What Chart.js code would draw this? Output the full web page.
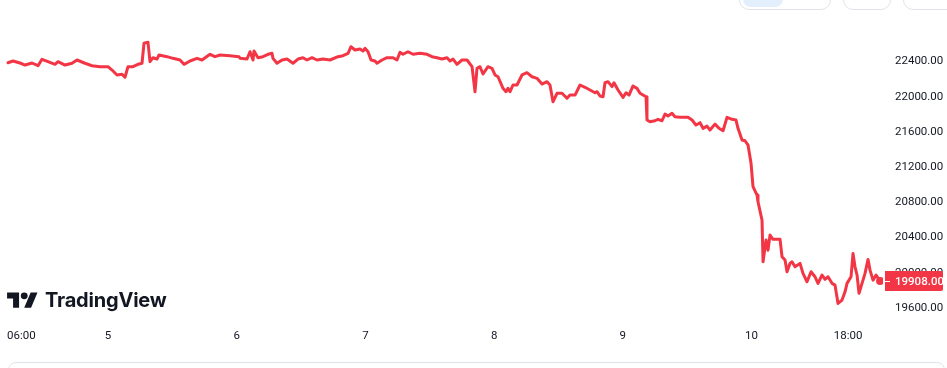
<!DOCTYPE html>
<html>
<head>
<meta charset="utf-8">
<script src="https://cdn.jsdelivr.net/npm/chart.js@4.4.1/dist/chart.umd.min.js"></script>
<style>
  html, body { margin: 0; padding: 0; background: #fff; }
  body { width: 947px; height: 368px; position: relative; overflow: hidden; font-family: Roboto, "Liberation Sans", sans-serif; }
  #chart { position: absolute; left: 0; top: 0; }
  .btn { position: absolute; top: -22px; height: 32px; border: 1px solid #e0e3eb; border-radius: 10px; box-sizing: border-box; background: #fff; }
  .pill { position: absolute; left: 3px; top: 0; width: 40px; height: 29px; background: #e3effd; border-radius: 8px; }
  .footer { position: absolute; left: 8px; top: 362px; width: 937px; height: 40px; border: 1px solid #e0e3eb; border-radius: 8px; box-sizing: border-box; }
  .logo { position: absolute; left: 7px; top: 289px; display: flex; align-items: flex-start; color: #131722; }
  .logo svg { width: 31px; height: 24px; }
  .logo span { font-family: Inter, sans-serif; font-weight: 700; font-size: 20px; line-height: 20px; margin-left: 7px; margin-top: 1px; letter-spacing: -0.2px; }
</style>
</head>
<body>
<canvas id="chart" width="947" height="368"></canvas>
<div class="btn" style="left:739px;width:92px;"><div class="pill" style="top:-1px"></div></div>
<div class="btn" style="left:843px;width:48px;"></div>
<div class="btn" style="left:903px;width:60px;"></div>
<div class="logo">
  <svg viewBox="0 0 36 28"><path d="M14 22H7V11H0V4h14v18zM28 22h-8l7.5-18h8L28 22z" fill="currentColor"/><circle cx="20" cy="8" r="4" fill="currentColor"/></svg>
  <span>TradingView</span>
</div>
<div class="footer"></div>
<script>
// hours counted from day 4, 00:00
const hours = [
  5.35, 6.28, 7.59, 8.52, 9.83, 10.95, 11.69, 12.81, 14.12, 14.68,
  15.98, 17.29, 18.22, 19.71, 21.02, 22.51, 24.0, 24.75, 25.68, 26.61,
  27.17, 27.73, 28.66, 29.59, 30.34, 30.71, 31.46, 31.83, 32.39, 33.14,
  33.51, 35.0, 36.12, 37.43, 38.17, 39.29, 40.6, 41.53, 43.02, 43.95,
  44.89, 46.75, 48.43, 48.62, 49.92, 50.48, 51.04, 51.23, 51.97, 52.9,
  53.84, 54.58, 54.77, 55.51, 56.45, 57.38, 58.5, 59.43, 60.36, 61.11,
  62.04, 62.97, 64.09, 65.4, 66.89, 67.82, 68.76, 69.31, 70.06, 70.99,
  71.55, 71.92, 72.49, 73.05, 73.79, 74.16, 75.1, 76.03, 77.15, 77.89,
  78.45, 79.01, 79.94, 80.88, 82.18, 83.49, 84.42, 85.35, 86.28, 87.22,
  87.78, 88.34, 89.08, 90.01, 90.95, 91.88, 92.44, 92.81, 93.37, 93.93,
  94.86, 95.61, 96.17, 96.73, 97.66, 98.22, 98.59, 98.97, 99.52, 100.27,
  101.2, 102.13, 103.07, 104.0, 104.93, 105.86, 106.42, 106.98, 107.73, 108.66,
  109.59, 110.15, 111.09, 112.02, 112.95, 113.88, 114.82, 115.19, 115.75, 116.31,
  116.68, 117.24, 117.99, 118.36, 119.11, 120.04, 120.6, 121.16, 121.9, 122.65,
  123.21, 123.77, 124.33, 124.51, 125.07, 126.0, 126.56, 127.31, 127.87, 128.43,
  129.17, 129.73, 130.67, 132.16, 132.91, 133.65, 134.4, 134.96, 135.7, 136.26,
  137.19, 137.94, 138.69, 139.43, 140.37, 141.11, 141.48, 142.23, 142.79, 143.35,
  143.91, 144.28, 145.03, 145.21, 145.96, 146.15, 146.71, 147.08, 147.45, 148.01,
  149.32, 149.69, 150.25, 150.62, 151.18, 151.55, 152.11, 153.05, 153.6, 154.35,
  155.1, 155.84, 156.4, 157.15, 157.71, 158.27, 159.01, 159.57, 160.13, 160.88,
  161.44, 161.81, 162.56, 162.93, 163.3, 163.68, 164.05, 164.61, 165.17, 165.73,
  166.1, 166.66, 167.22, 167.97
];
const prices = [
  22386, 22406, 22383, 22360, 22383, 22352, 22425, 22398, 22368, 22398,
  22360, 22380, 22417, 22380, 22352, 22341, 22341, 22303, 22247, 22255,
  22221, 22341, 22341, 22368, 22380, 22607, 22618, 22398, 22443, 22428,
  22474, 22455, 22436, 22417, 22368, 22406, 22436, 22417, 22482, 22455,
  22474, 22466, 22455, 22436, 22428, 22511, 22417, 22519, 22443, 22455,
  22482, 22493, 22436, 22380, 22417, 22428, 22380, 22428, 22443, 22417,
  22443, 22417, 22428, 22417, 22455, 22466, 22493, 22568, 22531, 22542,
  22519, 22550, 22511, 22417, 22406, 22380, 22417, 22443, 22443, 22417,
  22504, 22482, 22511, 22482, 22493, 22482, 22455, 22443, 22428, 22443,
  22406, 22428, 22368, 22417, 22417, 22341, 22057, 22323, 22341, 22258,
  22341, 22323, 22247, 22227, 22095, 22057, 22095, 22057, 22133, 22133,
  22247, 22273, 22227, 22209, 22144, 22171, 22133, 21943, 22039, 22039,
  21982, 22019, 22019, 22133, 22107, 22076, 22045, 22057, 22008, 22000,
  22159, 22171, 22114, 22159, 22076, 21992, 22045, 22019, 22122, 22095,
  22039, 22019, 22000, 21735, 21716, 21727, 21743, 21727, 21803, 21781,
  21811, 21773, 21766, 21766, 21735, 21678, 21705, 21641, 21666, 21621,
  21689, 21641, 21613, 21766, 21743, 21735, 21641, 21508, 21500, 21451,
  21243, 20978, 20883, 20807, 20598, 20125, 20372, 20257, 20428, 20380,
  20380, 20182, 20144, 20012, 20107, 20125, 20068, 20107, 19993, 19898,
  20012, 19955, 19880, 19975, 19926, 19955, 19880, 19860, 19652, 19690,
  19784, 19880, 19955, 20220, 20068, 19975, 19767, 19880, 19993, 20152,
  20030, 19916, 19975, 19908
];
const priceTicks = [19600, 20000, 20400, 20800, 21200, 21600, 22000, 22400];
const timeTicks = [6, 24, 48, 72, 96, 120, 144, 162];
const timeLabels = ["06:00", "5", "6", "7", "8", "9", "10", "18:00"];

const RED = "#f23645";
const TEXT = "#131722";
const FAMILY = "Roboto, 'Liberation Sans', sans-serif";
const FONT = "11.5px " + FAMILY;

const overlay = {
  id: "overlay",
  afterDraw(chart) {
    const ctx = chart.ctx;
    const xs = chart.scales.x;
    const ys = chart.scales.y;
    ctx.save();
    // time labels
    ctx.font = FONT;
    ctx.fillStyle = TEXT;
    ctx.textBaseline = "middle";
    ctx.textAlign = "center";
    timeTicks.forEach((t, i) => {
      const w = ctx.measureText(timeLabels[i]).width;
      const px = Math.max(xs.getPixelForValue(t), 7 + w / 2);
      ctx.fillText(timeLabels[i], px, 336);
    });
    // last price label
    const last = prices[prices.length - 1];
    const py = Math.round(ys.getPixelForValue(last));
    const left = ys.left + 2;
    ctx.fillStyle = RED;
    ctx.beginPath();
    ctx.roundRect(left, py - 10, 58, 20, [0, 2, 2, 0]);
    ctx.fill();
    ctx.strokeStyle = "#fff";
    ctx.lineWidth = 1;
    ctx.beginPath();
    ctx.moveTo(left, py + 0.5);
    ctx.lineTo(left + 5, py + 0.5);
    ctx.stroke();
    ctx.fillStyle = "#fff";
    ctx.font = "500 " + FONT;
    ctx.textAlign = "left";
    ctx.fillText(last.toFixed(2), ys.left + 12, py + 1);
    ctx.restore();
  }
};

new Chart(document.getElementById("chart"), {
  type: "line",
  data: {
    datasets: [{
      data: hours.map((h, i) => ({ x: h, y: prices[i] })),
      borderColor: RED,
      backgroundColor: RED,
      borderWidth: 3,
      borderJoinStyle: "round",
      borderCapStyle: "round",
      tension: 0,
      pointRadius: ctx => ctx.dataIndex === prices.length - 1 ? 4 : 0,
      pointBorderWidth: 0
    }]
  },
  options: {
    responsive: false,
    animation: false,
    layout: { autoPadding: false, padding: { top: 0, bottom: 46, left: 0, right: 0 } },
    plugins: { legend: { display: false }, tooltip: { enabled: false } },
    scales: {
      x: {
        type: "linear",
        min: 3.86,
        max: 168.52,
        display: false
      },
      y: {
        position: "right",
        min: 19441,
        max: 23098.6,
        grid: { display: false, drawTicks: false },
        border: { display: false },
        afterBuildTicks: scale => { scale.ticks = priceTicks.map(v => ({ value: v })); },
        afterFit: scale => {
          scale.width = 64;
          scale.paddingTop = 0;
          scale.paddingBottom = 0;
        },
        ticks: {
          padding: 12,
          color: TEXT,
          font: { family: FAMILY, size: 11.5 },
          callback: v => Number(v).toFixed(2)
        }
      }
    }
  },
  plugins: [overlay]
});
</script>
</body>
</html>
